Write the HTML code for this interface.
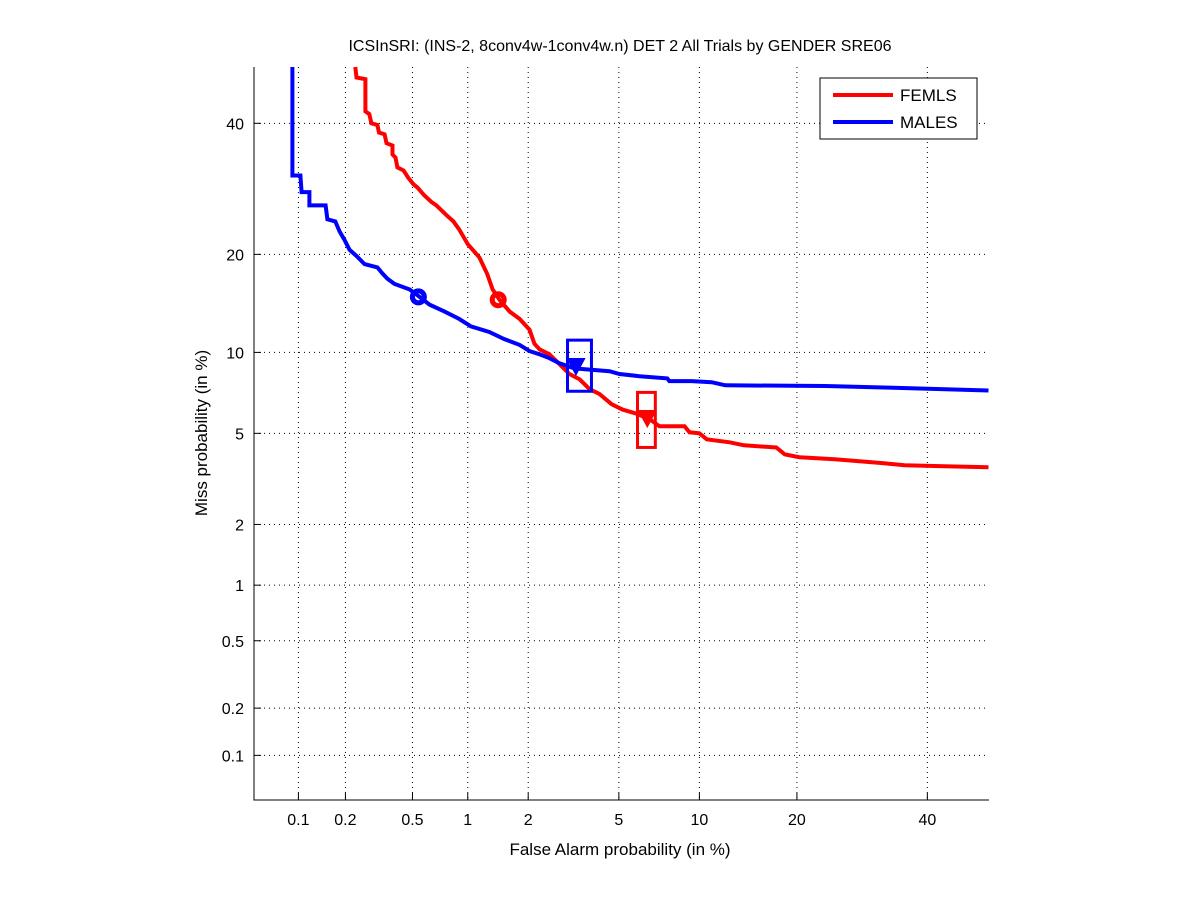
<!DOCTYPE html>
<html><head><meta charset="utf-8">
<style>
html,body{margin:0;padding:0;background:#fff;}
svg{display:block;font-family:"Liberation Sans",sans-serif;}
</style></head>
<body>
<svg id="chart" width="1201" height="900" viewBox="0 0 1201 900" xmlns="http://www.w3.org/2000/svg">
<rect x="0" y="0" width="1201" height="900" fill="#fff"/>
<text x="620" y="51" font-size="16" text-anchor="middle">ICSInSRI: (INS-2, 8conv4w-1conv4w.n) DET 2 All Trials by GENDER SRE06</text>
<g id="grid"></g>
<g id="axes"></g>
<g id="series"></g>
<text x="620" y="855" font-size="17" text-anchor="middle">False Alarm probability (in %)</text>
<text transform="translate(207,433) rotate(-90)" font-size="17" text-anchor="middle">Miss probability (in %)</text>
<g>
<rect x="820" y="78" width="157" height="61" fill="#fff" stroke="#000" stroke-width="1"/>
<g>
<line x1="833" y1="95" x2="893" y2="95" stroke="#f00" stroke-width="4"/>
<text x="900" y="101" font-size="17">FEMLS</text>
</g>
<g>
<line x1="833" y1="122" x2="893" y2="122" stroke="#00f" stroke-width="4"/>
<text x="900" y="128" font-size="17">MALES</text>
</g>
</g>
</svg>
<script>
const xTicks = [0.1, 0.2, 0.5, 1, 2, 5, 10, 20, 40];
const yTicks = [0.1, 0.2, 0.5, 1, 2, 5, 10, 20, 40];
const xTickLabels = ["0.1","0.2","0.5","1","2","5","10","20","40"];
const yTickLabels = ["0.1","0.2","0.5","1","2","5","10","20","40"];
const femlsFA = [0.23,0.234,0.265,0.265,0.28,0.288,0.313,0.32,0.345,0.354,0.384,0.384,0.40,0.41,0.445,0.474,0.507,0.534,0.583,0.64,0.68,0.77,0.84,0.90,1.0,1.15,1.26,1.34,1.45,1.63,1.82,2.03,2.14,2.26,2.51,2.79,3.09,3.42,3.78,4.16,4.67,5.17,5.82,6.59,7.19,8.87,9.24,10.0,10.6,12.6,14.0,17.5,18.5,20.3,25.1,32.7,36.1,43.0,50.9];
const femlsMiss = [50,48.1,47.8,42.1,41.6,40,39.7,38.4,38.1,36.6,36.2,34.7,34.2,32.6,32.1,30.9,29.9,29.4,28.2,27.2,26.7,25.3,24.4,23.3,21.3,19.6,17.6,15.9,14.8,13.6,12.9,11.9,10.7,10.25,9.85,9.1,8.4,8.05,7.4,7.1,6.5,6.2,6.0,5.7,5.34,5.34,5.05,5.0,4.73,4.6,4.47,4.38,4.1,3.99,3.91,3.76,3.69,3.65,3.62];
const malesFA = [0.0913,0.0913,0.103,0.105,0.118,0.118,0.150,0.154,0.173,0.184,0.197,0.212,0.234,0.262,0.313,0.335,0.358,0.394,0.481,0.548,0.623,0.753,0.90,1.04,1.29,1.53,1.82,2.03,2.26,2.51,2.79,3.25,4.58,5.03,6.03,7.69,7.82,9.4,11.0,12.2,23.8,33.4,50.9];
const malesMiss = [50,31.3,31.3,28.7,28.7,26.7,26.7,24.7,24.4,23.0,21.9,20.6,19.8,18.8,18.4,17.7,17.1,16.5,15.9,15.1,14.3,13.6,12.9,12.2,11.7,11.1,10.6,10.1,9.85,9.55,9.17,8.8,8.6,8.4,8.25,8.1,7.92,7.92,7.85,7.65,7.6,7.5,7.32];
const femlsMinDcf = [1.43, 14.8];
const malesMinDcf = [0.54, 15.1];
const femlsActDcf = [6.47, 5.7];
const malesActDcf = [3.3, 8.9];
const femlsBoxFA = [5.93, 6.94];
const femlsBoxMiss = [4.38, 7.2];
const malesBoxFA = [3.03, 3.85];
const malesBoxMiss = [7.27, 11.0];

function probit(p){
  const a=[-39.69683028665376,220.9460984245205,-275.9285104469687,138.3577518672690,-30.66479806614716,2.506628277459239];
  const b=[-54.47609879822406,161.5858368580409,-155.6989798598866,66.80131188771972,-13.28068155288572];
  const c=[-0.007784894002430293,-0.3223964580411365,-2.400758277161838,-2.549732539343734,4.374664141464968,2.938163982698783];
  const d=[0.007784695709041462,0.3224671290700398,2.445134137142996,3.754408661907416];
  const pl=0.02425;let q,r;
  if(p<pl){q=Math.sqrt(-2*Math.log(p));return (((((c[0]*q+c[1])*q+c[2])*q+c[3])*q+c[4])*q+c[5])/((((d[0]*q+d[1])*q+d[2])*q+d[3])*q+1);}
  if(p<=1-pl){q=p-0.5;r=q*q;return (((((a[0]*r+a[1])*r+a[2])*r+a[3])*r+a[4])*r+a[5])*q/(((((b[0]*r+b[1])*r+b[2])*r+b[3])*r+b[4])*r+1);}
  q=Math.sqrt(-2*Math.log(1-p));return -(((((c[0]*q+c[1])*q+c[2])*q+c[3])*q+c[4])*q+c[5])/((((d[0]*q+d[1])*q+d[2])*q+d[3])*q+1);
}
const X0=254,X1=989,Y0=67,Y1=800;
const pMin=probit(0.0005);
function xs(v){return Math.min(X1, X0+(probit(v/100)-pMin)*221.7);}
function ys(v){return Math.max(Y0, Y1-(probit(v/100)-pMin)*222.8);}
const NS="http://www.w3.org/2000/svg";
function mk(tag,parent,attrs){const e=document.createElementNS(NS,tag);for(const k in attrs)e.setAttribute(k,attrs[k]);parent.appendChild(e);return e;}
const grid=document.getElementById('grid'),axes=document.getElementById('axes'),series=document.getElementById('series');
xTicks.forEach((t,i)=>{const x=xs(t);
  const g=mk('line',grid,{x1:x,y1:Y0,x2:x,y2:Y1,stroke:'#000','stroke-width':1,'stroke-dasharray':'1,4'});
  
  
  const tk=mk('line',axes,{x1:x,y1:Y1,x2:x,y2:Y1-7,stroke:'#000','stroke-width':1});
  
  
  const tx=mk('text',axes,{x:x,y:Y1+25,'font-size':16,'text-anchor':'middle'});tx.textContent=xTickLabels[i];
  
  
});
yTicks.forEach((t,i)=>{const y=ys(t);
  const g=mk('line',grid,{x1:X0,y1:y,x2:X1,y2:y,stroke:'#000','stroke-width':1,'stroke-dasharray':'1,4'});
  
  
  const tk=mk('line',axes,{x1:X0,y1:y,x2:X0+7,y2:y,stroke:'#000','stroke-width':1});
  
  
  const tx=mk('text',axes,{x:X0-10,y:y+6,'font-size':16,'text-anchor':'end'});tx.textContent=yTickLabels[i];
  
  
});
const ax=mk('path',axes,{d:`M${X0},${Y0}V${Y1}H${X1}`,fill:'none',stroke:'#000','stroke-width':1});


function curve(fa,miss,color,name){
  const pts=fa.map((f,i)=>xs(f).toFixed(1)+','+ys(miss[i]).toFixed(1)).join(' ');
  const l=mk('polyline',series,{points:pts,fill:'none',stroke:color,'stroke-width':4,'stroke-linejoin':'miter'});
  
  
}
curve(femlsFA,femlsMiss,'#f00','femls-curve');
curve(malesFA,malesMiss,'#00f','males-curve');
function marks(minPt,actPt,bFA,bMiss,color,prefix){
  const c=mk('circle',series,{cx:xs(minPt[0]),cy:ys(minPt[1]),r:6,fill:'none',stroke:color,'stroke-width':5});
  
  
  const bx=xs(bFA[0]),bx2=xs(bFA[1]),by=ys(bMiss[1]),by2=ys(bMiss[0]);
  const r=mk('rect',series,{x:bx,y:by,width:bx2-bx,height:by2-by,fill:'none',stroke:color,'stroke-width':3});
  
  
  const tx=xs(actPt[0]),ty=ys(actPt[1]);
  const t=mk('polygon',series,{points:`${tx-8},${ty-8} ${tx+8},${ty-8} ${tx},${ty+7}`,fill:color,stroke:color,'stroke-width':2});
  
  
}
marks(femlsMinDcf,femlsActDcf,femlsBoxFA,femlsBoxMiss,'#f00','femls');
marks(malesMinDcf,malesActDcf,malesBoxFA,malesBoxMiss,'#00f','males');
</script>
</body></html>
